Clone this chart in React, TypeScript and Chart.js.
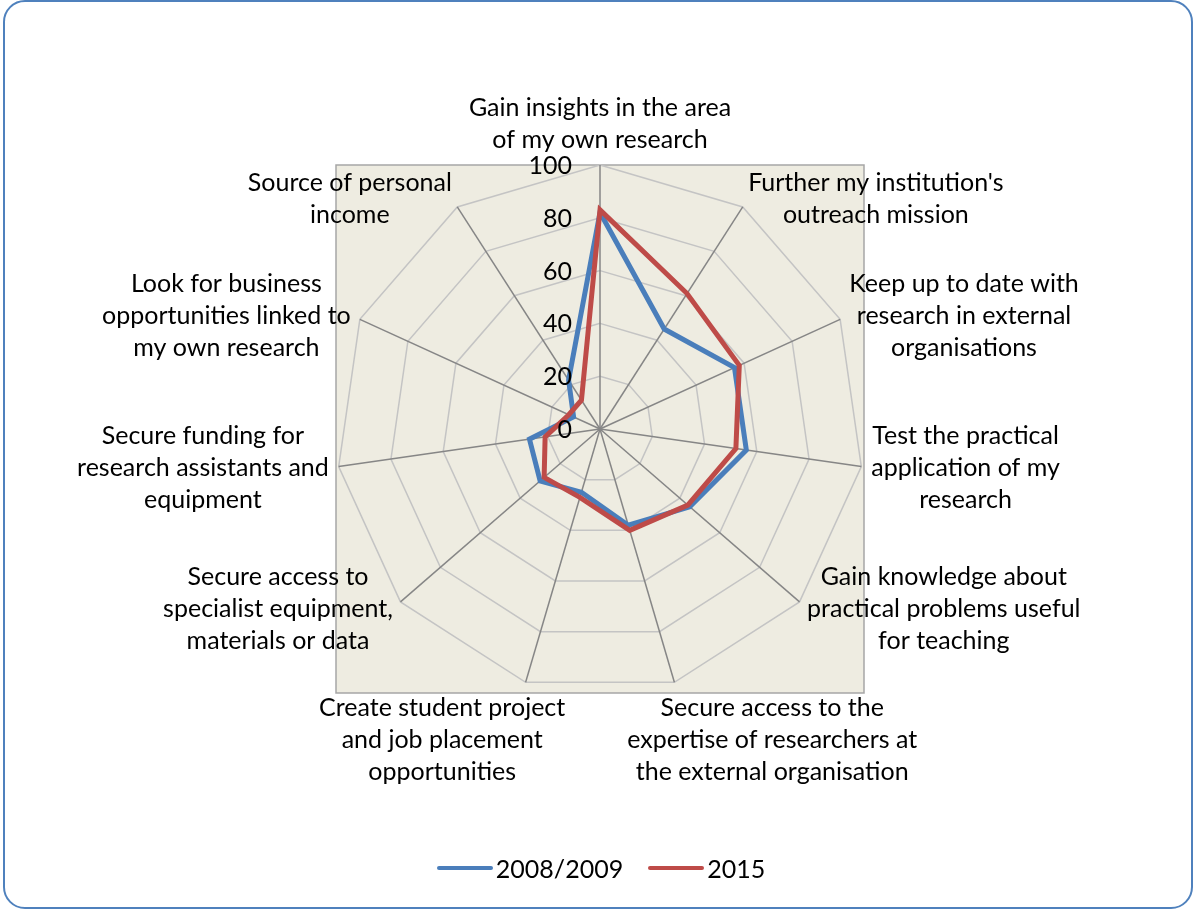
import React, { useEffect, useRef } from "react";
import { Chart, registerables } from "chart.js";

Chart.register(...registerables);

// ---------- data ----------
const categories: string[][] = [
  ["Gain insights in the area", "of my own research"],
  ["Further my institution's", "outreach mission"],
  ["Keep up to date with", "research in external", "organisations"],
  ["Test the practical", "application of my", "research"],
  ["Gain knowledge about", "practical problems useful", "for teaching"],
  ["Secure access to the", "expertise of researchers at", "the external organisation"],
  ["Create student project", "and job placement", "opportunities"],
  ["Secure access to", "specialist equipment,", "materials or data"],
  ["Secure funding for", "research assistants and", "equipment"],
  ["Look for business", "opportunities linked to", "my own research"],
  ["Source of personal", "income"],
];

const seriesNames: string[] = ["2008/2009", "2015"];
const values2008: number[] = [82, 45, 56, 56, 45, 38, 25, 30, 27, 11, 22];
const values2015: number[] = [83, 61, 58, 52, 44, 40, 27, 28, 21, 13, 13];
const tickValues: number[] = [0, 20, 40, 60, 80, 100];

// ---------- layout / style ----------
const W = 1194;
const H = 909;
const CX = 600;
const CY = 429;
const RADIUS = 264;
const FONT = "Lato, 'Open Sans', sans-serif";
const FS = 25;
const LH = 32;
const BLUE = "#4A7EBB";
const RED = "#BE4B48";
const seriesColors = [BLUE, RED];

const radarDecor = {
  id: "radarDecor",
  beforeDraw(chart: any) {
    const s = chart.scales.r;
    const ctx = chart.ctx;
    const r = s.drawingArea;
    ctx.save();
    ctx.fillStyle = "#EEECE1";
    ctx.fillRect(s.xCenter - r, s.yCenter - r, 2 * r, 2 * r);
    ctx.strokeStyle = "#A6A6A6";
    ctx.lineWidth = 1.5;
    ctx.strokeRect(s.xCenter - r, s.yCenter - r, 2 * r, 2 * r);
    ctx.restore();
  },
  afterDraw(chart: any) {
    const s = chart.scales.r;
    const ctx = chart.ctx;
    ctx.save();
    ctx.fillStyle = "#000";
    ctx.font = `${FS}px ${FONT}`;
    // point labels
    const labels = chart.data.labels as string[][];
    labels.forEach((lines, i) => {
      const w = Math.max(...lines.map((l) => ctx.measureText(l).width));
      const h = lines.length * LH;
      const a = s.getIndexAngle(i);
      const sn = Math.sin(a);
      const cs = -Math.cos(a);
      const p = s.getPointPosition(i, s.drawingArea + 10);
      const hf = Math.max(-1, Math.min(1, sn / 0.43));
      const vf = Math.abs(cs) > 0.9 ? Math.sign(cs) : 0;
      const cx = p.x + (hf * w) / 2;
      const top = p.y + (vf * h) / 2 - h / 2;
      ctx.textAlign = "center";
      ctx.textBaseline = "alphabetic";
      lines.forEach((l, k) => ctx.fillText(l, cx, top + k * LH + 24.5));
    });
    // tick labels
    ctx.textAlign = "right";
    ctx.textBaseline = "middle";
    s.ticks.forEach((t: any) => {
      const d = s.getDistanceFromCenterForValue(t.value);
      ctx.fillText(String(t.value), s.xCenter - 28, s.yCenter - d + 1);
    });
    ctx.restore();
  },
};

export default function App() {
  const ref = useRef<HTMLCanvasElement | null>(null);

  useEffect(() => {
    if (!ref.current) return;
    const chart = new Chart(ref.current, {
      type: "radar",
      data: {
        labels: categories,
        datasets: [
          {
            label: seriesNames[0],
            data: values2008,
            borderColor: BLUE,
            backgroundColor: BLUE,
            borderWidth: 5,
            fill: false,
            pointRadius: 0,
            pointHoverRadius: 0,
            order: 1,
          },
          {
            label: seriesNames[1],
            data: values2015,
            borderColor: RED,
            backgroundColor: RED,
            borderWidth: 5,
            fill: false,
            pointRadius: 0,
            pointHoverRadius: 0,
            order: 0,
          },
        ],
      },
      options: {
        responsive: false,
        animation: false,
        events: [],
        layout: { padding: 0 },
        plugins: {
          legend: { display: false },
          tooltip: { enabled: false },
        },
        scales: {
          r: {
            min: 0,
            max: 100,
            ticks: { display: false, stepSize: 20 },
            afterBuildTicks: (scale: any) => {
              scale.ticks = tickValues.map((v) => ({ value: v }));
            },
            afterFit: (scale: any) => {
              scale.xCenter = CX;
              scale.yCenter = CY;
              scale.drawingArea = RADIUS;
            },
            pointLabels: { display: false },
            grid: { color: "#C4C4C4", lineWidth: 1.5 },
            angleLines: { color: "#868686", lineWidth: 1.5 },
          },
        },
      },
      plugins: [radarDecor],
    } as any);
    return () => chart.destroy();
  }, []);

  return (
    <div style={{ position: "fixed", left: 0, top: 0, width: W, height: H, background: "#fff" }}>
      <canvas ref={ref} width={W} height={H} style={{ position: "absolute", left: 0, top: 0 }} />
      <div
        style={{
          position: "absolute",
          left: 3,
          top: 0,
          width: 1190,
          height: H,
          boxSizing: "border-box",
          border: "2px solid #4F81BD",
          borderRadius: 22,
          pointerEvents: "none",
        }}
      />
      <div
        style={{
          position: "absolute",
          left: 4,
          top: 852,
          width: W,
          height: 32,
          display: "flex",
          justifyContent: "center",
          alignItems: "center",
          font: `${FS}px ${FONT}`,
          lineHeight: "32px",
          color: "#000",
        }}
      >
        {seriesNames.map((n, i) => (
          <div key={n} style={{ display: "flex", alignItems: "center", marginLeft: i ? 25 : 0 }}>
            <span
              style={{
                display: "inline-block",
                width: 56,
                height: 4.5,
                borderRadius: 3,
                background: seriesColors[i],
                marginRight: 3,
              }}
            />
            <span>{n}</span>
          </div>
        ))}
      </div>
    </div>
  );
}
